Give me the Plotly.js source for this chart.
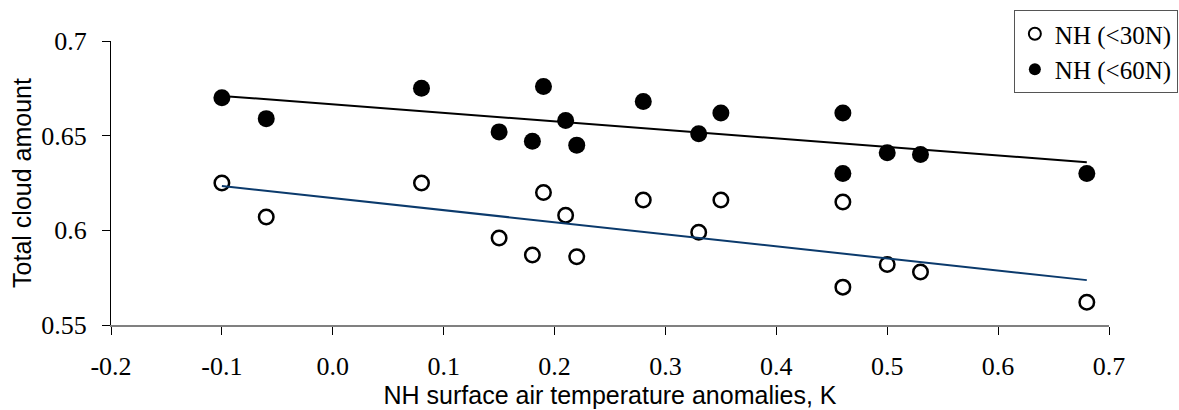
<!DOCTYPE html>
<html>
<head>
<meta charset="utf-8">
<script src="https://cdn.plot.ly/plotly-3.0.1.min.js"></script>
<style>html,body{margin:0;padding:0;background:#fff;overflow:hidden;}#chart{width:1179px;height:410px;}</style>
</head>
<body>
<div id="chart"></div>
<script>
// Data
const tempAnom = [-0.10, -0.06, 0.08, 0.15, 0.18, 0.19, 0.21, 0.22, 0.28, 0.33, 0.35, 0.46, 0.46, 0.50, 0.53, 0.68];
const cloud30N = [0.625, 0.607, 0.625, 0.596, 0.587, 0.620, 0.608, 0.586, 0.616, 0.599, 0.616, 0.615, 0.570, 0.582, 0.578, 0.562];
const cloud60N = [0.670, 0.659, 0.675, 0.652, 0.647, 0.676, 0.658, 0.645, 0.668, 0.651, 0.662, 0.662, 0.630, 0.641, 0.640, 0.630];
const trendX = [-0.10, 0.68];
const trend30N = [0.6234, 0.5737];
const trend60N = [0.671, 0.636];
const seriesNames = ['NH (<30N)', 'NH (<60N)'];
const xTickVals = [-0.2, -0.1, 0.0, 0.1, 0.2, 0.3, 0.4, 0.5, 0.6, 0.7];
const xTickText = ['-0.2', '-0.1', '0.0', '0.1', '0.2', '0.3', '0.4', '0.5', '0.6', '0.7'];
const yTickVals = [0.55, 0.6, 0.65, 0.7];
const yTickText = ['0.55', '0.6', '0.65', '0.7'];

const serif = 'Liberation Serif, Times New Roman, serif';
const sans = 'Liberation Sans, Arial, sans-serif';

const traces = [
  {
    x: tempAnom, y: cloud30N, type: 'scatter', mode: 'markers', name: seriesNames[0], legendgroup: 'a',
    marker: {symbol: 'circle', size: 14.5, color: '#ffffff', line: {color: '#000000', width: 2.5}}
  },
  {
    x: tempAnom, y: cloud60N, type: 'scatter', mode: 'markers', name: seriesNames[1], legendgroup: 'b',
    marker: {symbol: 'circle', size: 17, color: '#000000', line: {color: '#000000', width: 0}}
  },
  {
    x: trendX, y: trend60N, type: 'scatter', mode: 'lines', showlegend: false, hoverinfo: 'skip',
    line: {color: '#000000', width: 2}
  },
  {
    x: trendX, y: trend30N, type: 'scatter', mode: 'lines', showlegend: false, hoverinfo: 'skip',
    line: {color: '#0b3a6c', width: 2}
  }
];

const layout = {
  width: 1179, height: 410,
  margin: {l: 111, r: 70, t: 41, b: 85, autoexpand: false},
  paper_bgcolor: '#ffffff', plot_bgcolor: '#ffffff',
  showlegend: true,
  legend: {
    x: 1.069, xanchor: 'right', y: 1.109, yanchor: 'top',
    bordercolor: '#555555', borderwidth: 1, bgcolor: '#ffffff',
    font: {family: serif, size: 25, color: '#000000'},
    itemsizing: 'constant', traceorder: 'grouped', tracegroupgap: 0
  },
  xaxis: {
    range: [-0.2, 0.7], tickvals: xTickVals, ticktext: xTickText,
    showgrid: false, zeroline: false,
    showline: true, linecolor: '#808080', linewidth: 2,
    ticks: 'outside', ticklen: 8, tickcolor: '#000000', tickwidth: 1,
    ticklabelstandoff: 9,
    tickfont: {family: serif, size: 26, color: '#000000'},
    title: {text: 'NH surface air temperature anomalies, K', font: {family: sans, size: 25, color: '#000000'}, standoff: 0}
  },
  yaxis: {
    range: [0.55, 0.7], tickvals: yTickVals, ticktext: yTickText,
    showgrid: false, zeroline: false,
    showline: true, linecolor: '#000000', linewidth: 1,
    ticks: 'outside', ticklen: 8, tickcolor: '#000000', tickwidth: 1,
    ticklabelstandoff: 10,
    tickfont: {family: serif, size: 26, color: '#000000'},
    title: {text: 'Total cloud amount', font: {family: sans, size: 25, color: '#000000'}, standoff: 2}
  }
};

Plotly.newPlot('chart', traces, layout, {staticPlot: true, displayModeBar: false});
</script>
</body>
</html>
